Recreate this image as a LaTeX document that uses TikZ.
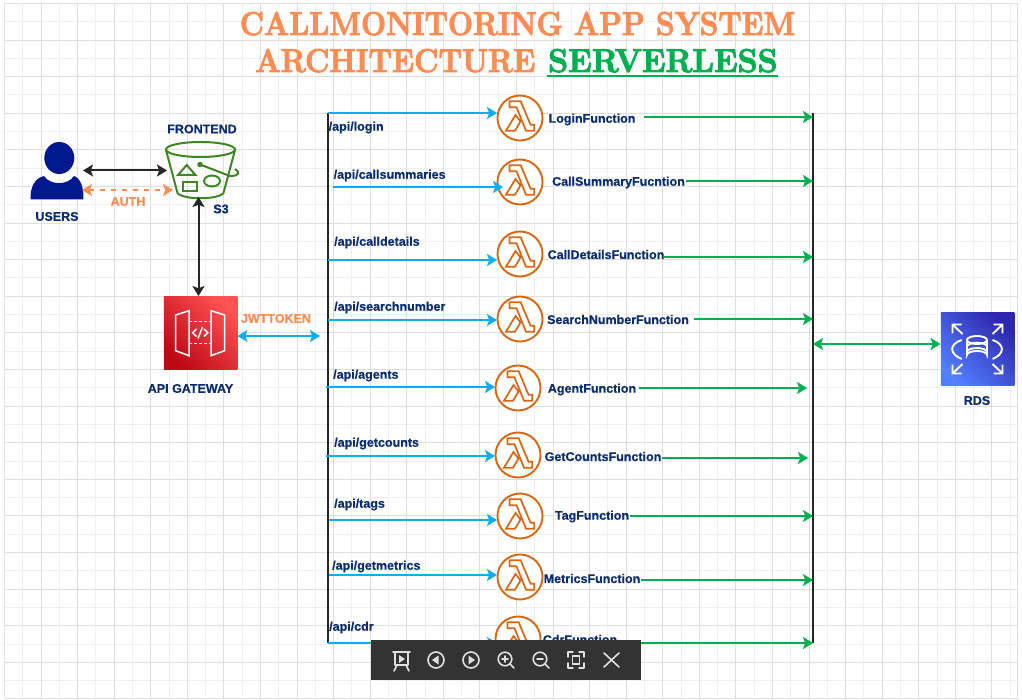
\documentclass[tikz,border=0pt]{standalone}
\usepackage{fontspec}
\setsansfont[BoldFeatures={FakeBold=0.6}]{Liberation Sans}
\newfontfamily\titlefont[BoldFeatures={FakeBold=3}]{Latin Modern Roman}
\usetikzlibrary{arrows.meta,calc,shapes.geometric}
\definecolor{navy}{HTML}{0B2D71}
\definecolor{orng}{HTML}{FF8C53}
\definecolor{sky}{HTML}{0DAEEA}
\definecolor{grn}{HTML}{00B050}
\definecolor{lam}{HTML}{D86613}
\definecolor{sth}{HTML}{3F8624}
\definecolor{usr}{HTML}{00188F}
\definecolor{bar}{HTML}{333333}
\definecolor{apiA}{HTML}{BD0816}
\definecolor{apiB}{HTML}{FF5252}
\definecolor{rdsA}{HTML}{2E27AD}
\definecolor{rdsB}{HTML}{527FFF}
\tikzset{
 lbl/.style={font=\sffamily\bfseries\fontsize{12.5}{14}\selectfont,text=navy,inner sep=0pt},
 apilbl/.style={lbl,anchor=west},
 olbl/.style={lbl,text=orng},
 blue/.style={draw=sky,line width=2pt,-{Stealth[length=10pt,width=12pt,inset=2.2pt]}},
 green/.style={draw=grn,line width=2pt,-{Stealth[length=10pt,width=12pt,inset=2.2pt]}},
 both/.style={line width=2pt,{Stealth[length=10pt,width=12pt,inset=2.2pt]}-{Stealth[length=10pt,width=12pt,inset=2.2pt]}},
 blk/.style={both,draw=black!85},
 lamb/.style={circle,draw=lam,line width=1.9pt,fill=white,minimum size=45pt,inner sep=0pt},
 bus/.style={draw=black!85,line width=1.9pt},
 tool/.style={draw=white!88!black,line width=1.6pt,line cap=round,line join=round},
 ttl/.style={inner sep=0pt,anchor=base west,font=\titlefont\bfseries\fontsize{33}{36}\selectfont},
}
\newcommand{\lambdaicon}[1]{%
 \draw[lam,line width=1.7pt,line join=miter,fill=white,shift={(#1)}]
  (-10.5,-16.7) -- (0.7,-16.7) -- (10.5,6.7) -- (14.3,6.7) -- (14.3,12.7) -- (6,12.7) -- (-3.5,-10.7) -- (-10.5,-10.7) -- cycle
  (-4.5,-3) -- (-14,12.7) -- (-5,12.7) -- (0.5,3.5) -- cycle;}
\begin{document}
\begin{tikzpicture}[x=1pt,y=-1pt]
\useasboundingbox (0,0) rectangle (1022,700);
\fill[white] (0,0) rectangle (1022,700);
% grid
\foreach \i in {0,...,27}{
 \draw[black!6,line width=1pt] ({4.5+36.57*\i+18.3},3.5) -- ({4.5+36.57*\i+18.3},698);
}
\foreach \i in {0,...,18}{
 \draw[black!6,line width=1pt] (4.5,{3.5+36.6*\i+18.3}) -- (1017,{3.5+36.6*\i+18.3});
}
\foreach \i in {0,...,27}{
 \draw[black!13,line width=1pt] ({4.5+36.57*\i},3.5) -- ({4.5+36.57*\i},698);
}
\foreach \i in {0,...,18}{
 \draw[black!13,line width=1pt] (4.5,{3.5+36.6*\i}) -- (1017,{3.5+36.6*\i});
}
\draw[black!13,line width=1pt] (4.5,698) -- (1017,698) -- (1017,3.5);
% title
\node[ttl,text=orng,anchor=base] (title1) at (517.5,35) {\scalebox{.9}[1]{CALLMONITORING APP SYSTEM}};
\node[ttl,text=orng] (title2) at (255,72) {\scalebox{.91}[1]{ARCHITECTURE}};
\node[ttl,text=grn] (title3) at (548,72) {\scalebox{.97}[1]{SERVERLESS}};
\draw[grn,line width=2pt] (547,76) -- (778,76);
% users
\fill[usr] (30.5,199.5) .. controls (30,187) and (35,178) .. (44,176) .. controls (50,185.5) and (68,185.5) .. (74,176) .. controls (80,178) and (84,187) .. (83.5,199.5) -- cycle;
\node[ellipse,fill=usr,minimum width=30pt,minimum height=32pt,inner sep=0pt] (users) at (59.3,158) {};
\coordinate (uR1) at (83,170.5);
\coordinate (uR2) at (82,190);
\node[lbl] (userslbl) at (57,216.5) {USERS};
% s3
\begin{scope}[sth,line width=2pt]
 \draw (200.5,149.5) ellipse (34.5 and 7.5);
 \draw (166,150) -- (177.5,193) .. controls (183,200) and (218,200) .. (223.5,193) -- (235,150);
 \draw (186.7,165) -- (178,175) -- (195.5,175) -- cycle;
 \draw (183,181.7) rectangle (197,190.7);
 \draw (212,181) ellipse (8 and 5.5);
 \fill (200,164.5) circle (2.8);
 \draw (200,164.5) -- (230,176) .. controls (240,176) and (240,172) .. (235,169);
\end{scope}
\coordinate (s3L) at (167,170.5);
\coordinate (s3La) at (173,190);
\coordinate (s3B) at (198.5,197);
\node[lbl] (frontend) at (202,129) {FRONTEND};
\node[lbl] (s3lbl) at (221,209) {S3};
\node[olbl] (auth) at (128,201.5) {AUTH};
\draw[blk] (uR1) -- (s3L);
\draw[both,draw=orng,dash pattern=on 5pt off 6pt] (uR2) -- (s3La);
% api gateway
\node[minimum size=73.5pt,inner sep=0pt,shading=axis,bottom color=apiA,top color=apiB,shading angle=-45] (api) at (200.5,333) {};
\begin{scope}[white,line width=1.5pt,line join=miter]
 \draw (189,310.7) -- (175.7,315) -- (175.7,350.7) -- (189,355.7) -- cycle;
 \draw (211,310.7) -- (224.5,315) -- (224.5,350.7) -- (211,355.7) -- cycle;
 \draw[dash pattern=on 3pt off 2pt] (189,321.7) -- (211,321.7) (189,343.7) -- (211,343.7);
 \draw (196.5,329) -- (192.7,332.7) -- (196.5,336.5) (204,329) -- (207.8,332.7) -- (204,336.5) (202.5,327) -- (198,338.5);
\end{scope}
\node[lbl] (apilabel) at (190.5,388.5) {API GATEWAY};
\node[olbl] (jwt) at (276,318.5) {JWTTOKEN};
\coordinate (apiBus) at (320,336);
\draw[blk] (s3B) -- (api.north -| s3B);
\draw[both,draw=sky] (api.east |- apiBus) -- (apiBus);
% buses
\coordinate (lt) at (328,113); \coordinate (lb) at (328,643);
\coordinate (rt) at (813,113); \coordinate (rb) at (813,643);
\draw[bus] (lt) -- (lb);
\draw[bus] (rt) -- (rb);
% rows
\foreach \n/\ax/\ay/\bex/\cx/\cy/\name/\fx/\fy/\gx/\gy/\gex in {%
 a/328/113/497/520/118/LoginFunction/592/119.5/644/117/813,
 b/333/187/503/520/182/CallSummaryFucntion/618.5/182.5/686/181/813,
 c/328/260/497/520/254/CallDetailsFunction/606/254.5/663/257/813,
 d/328/320/497/520/319/SearchNumberFunction/618/319.5/694/319/813,
 e/326/387/495/518/388/AgentFunction/592/389.5/639/388/807,
 f/326/456/495/518/455/GetCountsFunction/603/456.5/662/458/808,
 g/329/520/497/520/516/TagFunction/592/516.5/630/516/813,
 h/329/575/497/520/577/MetricsFunction/592/578.5/641/580/813,
 i/328/643/497/518/639/CdrFunction/580/639.5/620/643/813}{
 \node[lamb] (lam\n) at (\cx,\cy) {};
 \lambdaicon{\cx,\cy}
 \node[lbl] (fn\n) at (\fx,\fy) {\name};
 \coordinate (bs\n) at (\ax,\ay);
 \coordinate (be\n) at (\bex,\ay);
 \coordinate (gs\n) at (\gx,\gy);
 \coordinate (ge\n) at (\gex,\gy);
 \draw[blue] (bs\n) -- (be\n);
 \draw[green] (gs\n) -- (ge\n);
}
\node[apilbl] (api1) at (328.5,127.5) {/api/login};
\node[apilbl] (api2) at (333.5,175.5) {/api/callsummaries};
\node[apilbl] (api3) at (334,242.5) {/api/calldetails};
\node[apilbl] (api4) at (334,307.5) {/api/searchnumber};
\node[apilbl] (api5) at (333,375.5) {/api/agents};
\node[apilbl] (api6) at (334,443.5) {/api/getcounts};
\node[apilbl] (api7) at (334,504.5) {/api/tags};
\node[apilbl] (api8) at (332,566.5) {/api/getmetrics};
\node[apilbl] (api9) at (329,627.5) {/api/cdr};
% rds
\node[minimum size=73.5pt,inner sep=0pt,shading=axis,bottom color=rdsB,top color=rdsA,shading angle=-45] (rds) at (977.5,349) {};
\node[lbl] (rdslbl) at (977,400.5) {RDS};
\coordinate (rBus) at (813,344);
\draw[both,draw=grn] (rBus) -- (rds.west |- rBus);
\begin{scope}[white,line width=1.9pt]
 \draw (967,340) -- (967,355) arc[start angle=180,end angle=360,x radius=10,y radius=4] -- (987,340);
 \draw (977,340) ellipse (10 and 4);
 \draw (967,346.7) arc[start angle=180,end angle=360,x radius=10,y radius=4];
 \draw (967,352) arc[start angle=180,end angle=360,x radius=10,y radius=4];
 \draw (961.7,340) .. controls (949,344) and (949,354) .. (961.7,359);
 \draw (992.5,340) .. controls (1005,344) and (1005,354) .. (992.5,359);
 \foreach \sx/\sy in {1/1,-1/1,1/-1,-1/-1}{
  \begin{scope}[shift={(977.5,349)},xscale=\sx,yscale=\sy]
   \draw (15,15) -- (25,24.5) (25,15.5) -- (25,24.5) -- (16,24.5);
  \end{scope}}
\end{scope}
% toolbar
\node[fill=bar,minimum width=270pt,minimum height=40pt,inner sep=0pt,anchor=north west] (toolbar) at (371,640) {};
\draw[tool] (393,652) -- (410,652) (395,652) -- (395,665) -- (408,665) -- (408,652) (397,665) -- (394,671) (406,665) -- (409,671);
\fill[white!88!black] (399,655) -- (405,659) -- (399,663) -- cycle;
\draw[tool] (436,660) circle (8);
\fill[white!88!black] (438.5,655.5) -- (432,660) -- (438.5,664.5) -- cycle;
\draw[tool] (471,660) circle (8);
\fill[white!88!black] (468.5,655.5) -- (475,660) -- (468.5,664.5) -- cycle;
\draw[tool] (505,659) circle (6.8) (510,664) -- (514,668) (502,659) -- (508,659) (505,656) -- (505,662);
\draw[tool] (540,659) circle (6.8) (545,664) -- (549,668) (537,659) -- (543,659);
\draw[tool] (568,657) -- (568,652) -- (573,652) (579,652) -- (584,652) -- (584,657) (584,663) -- (584,668) -- (579,668) (573,668) -- (568,668) -- (568,663);
\draw[tool] (572.5,656) rectangle (579.5,664);
\draw[tool] (604,653) -- (619,667) (619,653) -- (604,667);
\end{tikzpicture}
\end{document}
